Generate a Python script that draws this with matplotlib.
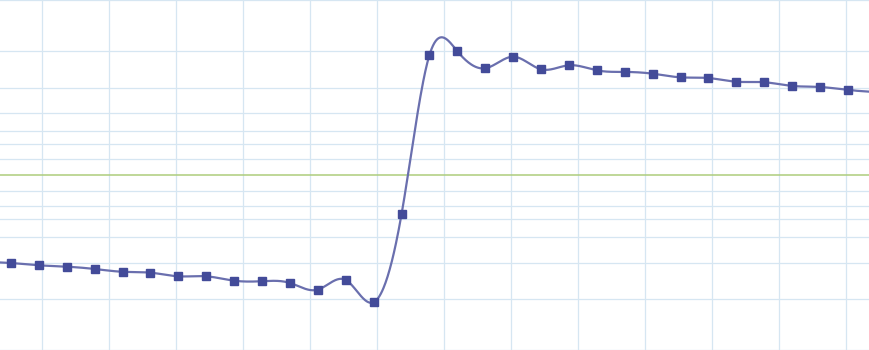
import matplotlib
matplotlib.use("Agg")
import matplotlib.pyplot as plt
import numpy as np

# sample values (33 points, first and last fall just outside the view),
# y scaled so the plot spans -1 .. 1
values = [-0.497, -0.503, -0.516, -0.524, -0.537, -0.553, -0.558, -0.579,
          -0.579, -0.604, -0.607, -0.617, -0.655, -0.600, -0.727, -0.223,
          0.686, 0.707, 0.610, 0.676, 0.604, 0.627, 0.598, 0.589, 0.579,
          0.558, 0.554, 0.533, 0.530, 0.509, 0.503, 0.486, 0.474]
samples = list(range(-1, len(values) - 1))

# gridline levels
y_levels = [0.09, 0.177, 0.25, 0.354, 0.5, 0.707, 1.0]
x_grid_start = 1.122
x_grid_step = 2.401


def natural_spline(x, y, n=40):
    """Natural cubic spline through (x, y), returns dense curve."""
    x = np.asarray(x, float)
    y = np.asarray(y, float)
    m = len(x)
    h = np.diff(x)
    A = np.zeros((m, m))
    b = np.zeros(m)
    A[0, 0] = 1
    A[-1, -1] = 1
    for i in range(1, m - 1):
        A[i, i - 1] = h[i - 1]
        A[i, i] = 2 * (h[i - 1] + h[i])
        A[i, i + 1] = h[i]
        b[i] = 3 * ((y[i + 1] - y[i]) / h[i] - (y[i] - y[i - 1]) / h[i - 1])
    c = np.linalg.solve(A, b)
    xs, ys = [], []
    for i in range(m - 1):
        bi = (y[i + 1] - y[i]) / h[i] - h[i] * (2 * c[i] + c[i + 1]) / 3
        di = (c[i + 1] - c[i]) / (3 * h[i])
        t = np.linspace(0, h[i], n, endpoint=False)
        xs.append(x[i] + t)
        ys.append(y[i] + bi * t + c[i] * t ** 2 + di * t ** 3)
    xs.append([x[-1]])
    ys.append([y[-1]])
    return np.concatenate(xs), np.concatenate(ys)


fig = plt.figure(figsize=(8.7, 3.5), dpi=100)
ax = fig.add_axes([0, 0, 1, 1])

grid_kw = dict(color="#d6e6f2", lw=0.9, zorder=1)
for lv in y_levels:
    ax.axhline(lv, **grid_kw)
    ax.axhline(-lv, **grid_kw)
for k in range(-1, 13):
    ax.axvline(x_grid_start + k * x_grid_step, **grid_kw)
ax.axhline(0, color="#aecd7c", lw=1.1, zorder=2)

xs, ys = natural_spline(samples, values)
ax.plot(xs, ys, color="#6a6fae", lw=1.6, zorder=3)
ax.plot(samples, values, ls="none", marker="s", ms=5.8,
        color="#434b99", zorder=4)

ax.set_xlim(-0.394, 30.79)
ax.set_ylim(-1.0, 1.0)
ax.axis("off")

fig.savefig("out.png", dpi=100)
